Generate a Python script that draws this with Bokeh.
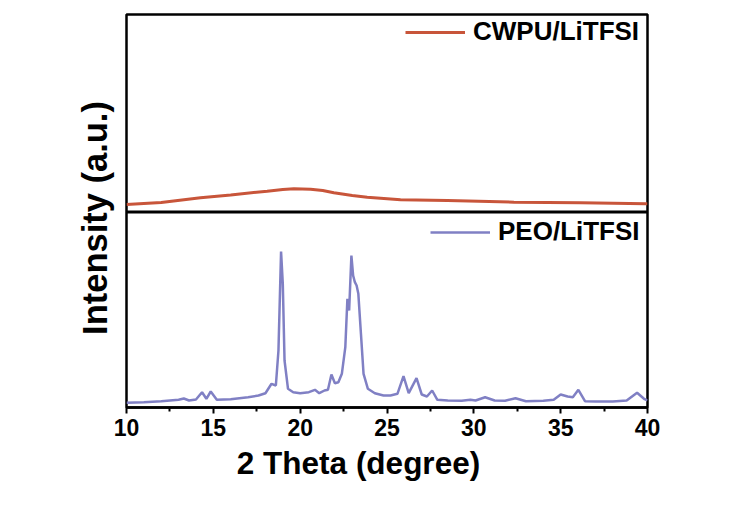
import math
from bokeh.plotting import figure
from bokeh.models import Range1d, Span, Label, Legend, LegendItem, FixedTicker, ColumnDataSource
from bokeh.embed import file_html
from bokeh.resources import INLINE

# ---- data ----
peo_theta = [10.0, 11.0, 12.0, 12.5, 13.0, 13.3, 13.6, 14.0, 14.35, 14.6, 14.85, 15.2, 16.0, 17.0,
             17.6, 18.0, 18.35, 18.6, 18.75, 18.9, 19.0, 19.1, 19.3, 19.6, 20.0, 20.5, 20.85, 21.1,
             21.4, 21.6, 21.8, 22.0, 22.2, 22.4, 22.6, 22.72, 22.82, 22.95, 23.05, 23.15, 23.25,
             23.35, 23.5, 23.65, 23.9, 24.3, 24.8, 25.2, 25.6, 25.95, 26.25, 26.7, 27.0, 27.3,
             27.6, 27.9, 28.5, 29.3, 29.8, 30.1, 30.65, 31.2, 31.8, 32.4, 33.0, 34.0, 34.6, 35.0,
             35.4, 35.7, 36.02, 36.4, 37.0, 38.0, 38.8, 39.4, 39.8, 40.0]
peo_int = [3.7, 4.3, 5.3, 6.0, 6.7, 8.0, 6.0, 7.0, 14.3, 7.7, 15.0, 6.7, 7.3, 9.3,
           11.0, 13.3, 22.7, 21.0, 56.0, 155.0, 122.7, 46.0, 17.7, 14.3, 13.3, 14.3, 16.7, 13.3,
           16.0, 16.7, 32.0, 23.3, 24.3, 32.7, 59.3, 107.7, 96.0, 151.0, 131.0, 124.3, 121.0,
           112.7, 72.7, 32.7, 17.7, 13.3, 11.0, 11.0, 12.7, 30.3, 13.3, 28.3, 12.0, 10.0,
           16.0, 6.7, 6.0, 5.7, 6.7, 6.0, 9.3, 6.0, 5.7, 8.3, 5.3, 5.7, 6.7, 12.0,
           10.0, 9.3, 16.7, 5.3, 5.0, 5.0, 6.0, 13.7, 7.7, 6.0]

cwpu_theta = [10.0, 12.0, 14.26, 16.0, 18.1, 19.0, 19.64, 20.6, 21.3, 21.94, 23.0, 23.86,
              25.78, 28.47, 32.31, 36.15, 39.9, 40.0]
cwpu_int = [7.5, 9.5, 14.2, 17.0, 20.8, 22.5, 23.2, 22.8, 21.5, 19.2, 16.5, 14.8,
            12.2, 11.5, 9.8, 9.2, 8.2, 8.2]

x_ticks = [10, 15, 20, 25, 30, 35, 40]
x_minor = [12.5, 17.5, 22.5, 27.5, 32.5, 37.5]
panel_split = 194.5          # boundary between the two stacked panels (y units)

PEO_COLOR = "#8080C4"
CWPU_COLOR = "#C8553A"
FONT = "Liberation Sans"

p = figure(width=752, height=526, output_backend="svg", toolbar_location=None,
           x_range=Range1d(10, 40), y_range=Range1d(-1, 392),
           min_border_left=126, min_border_right=105, min_border_top=14, min_border_bottom=119,
           background_fill_color="white", border_fill_color="white")
p.grid.visible = False
p.outline_line_color = "black"
p.outline_line_width = 2.5
p.yaxis.visible = False

ax = p.xaxis[0]
ax.ticker = FixedTicker(ticks=x_ticks, minor_ticks=x_minor)
ax.axis_line_width = 2.5
ax.major_tick_line_width = 2
ax.minor_tick_line_width = 2
ax.major_tick_in = 0
ax.major_tick_out = 6
ax.minor_tick_in = 0
ax.minor_tick_out = 4
ax.major_label_text_font = FONT
ax.major_label_text_font_size = "23px"
ax.major_label_text_font_style = "bold"
ax.major_label_text_color = "black"
ax.major_label_standoff = 5

src_peo = ColumnDataSource(dict(x=peo_theta, y=peo_int))
src_cw = ColumnDataSource(dict(x=cwpu_theta, y=[v + panel_split for v in cwpu_int]))

r_peo = p.line("x", "y", source=src_peo, line_color=PEO_COLOR, line_width=2.5)
r_cw = p.line("x", "y", source=src_cw, line_color=CWPU_COLOR, line_width=3)

p.add_layout(Span(location=panel_split, dimension="width", line_color="black", line_width=3))

leg_kw = dict(label_text_font=FONT, label_text_font_size="26px", label_text_font_style="bold",
              label_text_color="black", glyph_width=60, label_standoff=8, padding=0, spacing=0,
              border_line_alpha=0, background_fill_alpha=0, margin=0)
leg1 = Legend(items=[LegendItem(label="CWPU/LiTFSI", renderers=[r_cw])],
              location=(279, 360), **leg_kw)
leg2 = Legend(items=[LegendItem(label="PEO/LiTFSI", renderers=[r_peo])],
              location=(304, 160), **leg_kw)
p.add_layout(leg1)
p.add_layout(leg2)

p.add_layout(Label(x=6, y=189.5, x_units="screen", y_units="screen", text="Intensity (a.u.)",
                   angle=math.pi / 2, text_align="center", text_baseline="middle",
                   text_font=FONT, text_font_size="34.5px", text_font_style="bold",
                   text_color="black"), "left")
p.add_layout(Label(x=232, y=12, x_units="screen", y_units="screen", text="2 Theta (degree)",
                   text_align="center", text_baseline="middle",
                   text_font=FONT, text_font_size="31.5px", text_font_style="bold",
                   text_color="black"), "below")

open("out.html", "w").write(file_html(p, INLINE))
